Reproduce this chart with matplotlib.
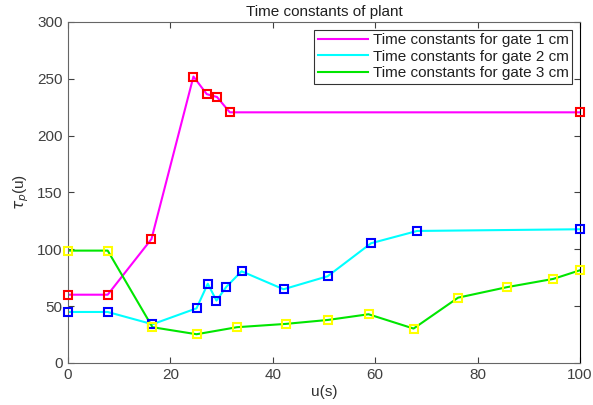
import matplotlib
matplotlib.use("Agg")
import matplotlib.pyplot as plt

plt.rcParams['font.family'] = ['Liberation Sans', 'DejaVu Sans']

x1 = [0, 7.75, 16.3, 24.5, 27.1, 29.1, 31.6, 100]
y1 = [60, 60, 109, 252, 236.5, 234, 220.5, 220.5]

x2 = [0, 7.75, 16.5, 25.1, 27.3, 29.0, 30.9, 33.9, 42.1, 50.7, 59.2, 68.2, 100]
y2 = [44.8, 44.8, 34, 48, 69.7, 54.8, 66.8, 80.6, 64.8, 76.2, 105.3, 116.1, 117.6]

x3 = [0, 7.75, 16.5, 25.1, 33.0, 42.5, 50.8, 58.7, 67.5, 76.2, 85.7, 94.8, 100]
y3 = [98.8, 98.8, 31.4, 25.2, 31.4, 34.3, 37.8, 42.8, 30.2, 57.4, 66.6, 73.9, 81.5]

labels = ['Time constants for gate 1 cm', 'Time constants for gate 2 cm',
          'Time constants for gate 3 cm']
xticks = [0, 20, 40, 60, 80, 100]
yticks = [0, 50, 100, 150, 200, 250, 300]

fig = plt.figure(figsize=(5.93, 4.05), dpi=100)
ax = fig.add_axes([0.1147, 0.104, 0.978 - 0.1147, 0.9457 - 0.104])

series = [(x1, y1, '#ff00ff', '#ff0000'),
          (x2, y2, '#00ffff', '#0000ff'),
          (x3, y3, '#00e600', '#ffff00')]
for (xs, ys, lc, mc), lab in zip(series, labels):
    ax.plot(xs, ys, color=lc, lw=1.5, label=lab, zorder=2)
for xs, ys, lc, mc in series:
    ax.plot(xs, ys, ls='none', marker='s', ms=5.5, mfc='none', mec=mc, mew=1.5,
            zorder=3, clip_on=False)

ax.set_xlim(0, 100)
ax.set_ylim(0, 300)
ax.set_xticks(xticks)
ax.set_yticks(yticks)
ax.tick_params(direction='in', top=True, right=True, length=4,
               labelsize=11, colors='#404040', pad=4)
for s in ['left', 'bottom', 'top']:
    ax.spines[s].set_color('#666666')
ax.spines['right'].set_color('black')

ax.set_title('Time constants of plant', fontsize=11, color='#202020', pad=4)
ax.set_xlabel('u(s)', fontsize=11, color='#303030', labelpad=2)
ax.set_ylabel(r'$\tau_p$(u)', fontsize=11, color='#303030', labelpad=4)

leg = ax.legend(loc='upper right', fontsize=11, frameon=True, fancybox=False,
                edgecolor='black', borderpad=0.25, labelspacing=0.15,
                handlelength=3.3, handletextpad=0.3, borderaxespad=0.5)
leg.get_frame().set_linewidth(0.8)
for t in leg.get_texts():
    t.set_color('#202020')

fig.savefig('out.png', dpi=100)
